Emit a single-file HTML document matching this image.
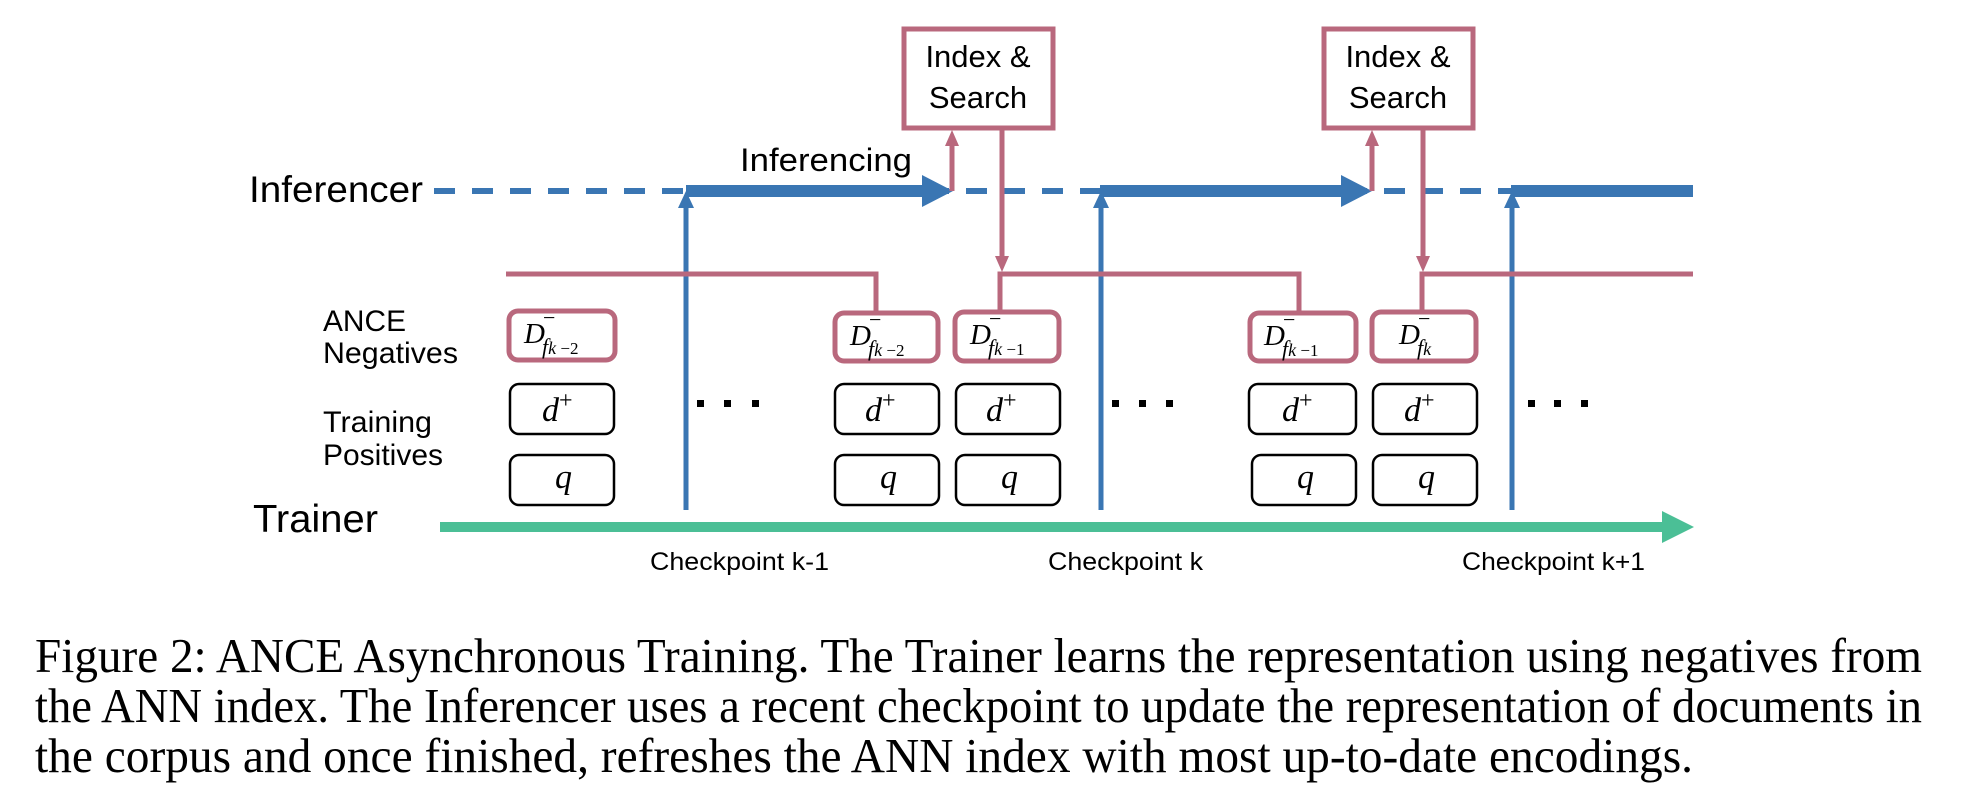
<!DOCTYPE html>
<html><head><meta charset="utf-8"><style>
html,body{margin:0;padding:0;background:#fff;width:1963px;height:802px;overflow:hidden}
svg{display:block}
</style></head><body>
<svg width="1963" height="802" viewBox="0 0 1963 802" xmlns="http://www.w3.org/2000/svg">
<g font-family="Liberation Sans, sans-serif" fill="#000">
<text x="249" y="202" font-size="37" textLength="174" lengthAdjust="spacingAndGlyphs">Inferencer</text>
<text x="740" y="171" font-size="32" textLength="172" lengthAdjust="spacingAndGlyphs">Inferencing</text>
<text x="253" y="532" font-size="39" textLength="125" lengthAdjust="spacingAndGlyphs">Trainer</text>
<text x="323" y="331" font-size="30" textLength="83" lengthAdjust="spacingAndGlyphs">ANCE</text>
<text x="323" y="363" font-size="30" textLength="135" lengthAdjust="spacingAndGlyphs">Negatives</text>
<text x="323" y="432" font-size="30" textLength="109" lengthAdjust="spacingAndGlyphs">Training</text>
<text x="323" y="465" font-size="30" textLength="120" lengthAdjust="spacingAndGlyphs">Positives</text>
<text x="650" y="570" font-size="25" textLength="179" lengthAdjust="spacingAndGlyphs">Checkpoint k-1</text>
<text x="1048" y="570" font-size="25" textLength="155" lengthAdjust="spacingAndGlyphs">Checkpoint k</text>
<text x="1462" y="570" font-size="25" textLength="183" lengthAdjust="spacingAndGlyphs">Checkpoint k+1</text>
</g>
<line x1="434" y1="191" x2="1693" y2="191" stroke="#3a76b3" stroke-width="6" stroke-dasharray="21 17"/>
<g fill="#3a76b3" stroke="none">
<rect x="686" y="185" width="238" height="12"/>
<polygon points="922,175 953,191 922,207"/>
<rect x="1100" y="185" width="242" height="12"/>
<polygon points="1341,175 1372,191 1341,207"/>
<rect x="1511" y="185" width="182" height="12"/>
</g>
<g stroke="#3a76b3" stroke-width="5">
<line x1="686" y1="510" x2="686" y2="205"/>
<line x1="1101" y1="510" x2="1101" y2="205"/>
<line x1="1512" y1="510" x2="1512" y2="205"/>
</g>
<g fill="#3a76b3">
<polygon points="678,208 686,191 694,208"/>
<polygon points="1093,208 1101,191 1109,208"/>
<polygon points="1504,208 1512,191 1520,208"/>
</g>
<rect x="440" y="522" width="1224" height="10" fill="#4bbf96"/>
<polygon points="1662,511 1694,527 1662,543" fill="#4bbf96"/>
<g fill="#fff" stroke="#b9687d" stroke-width="5">
<rect x="904" y="29" width="149" height="99"/>
<rect x="1324" y="29" width="149" height="99"/>
</g>
<g font-family="Liberation Sans, sans-serif" font-size="31" text-anchor="middle">
<text x="978" y="67">Index &amp;</text>
<text x="978" y="108">Search</text>
<text x="1398" y="67">Index &amp;</text>
<text x="1398" y="108">Search</text>
</g>
<g stroke="#b9687d" stroke-width="5" fill="none">
<line x1="952" y1="191" x2="952" y2="145"/>
<line x1="1002" y1="130" x2="1002" y2="258"/>
<line x1="1372" y1="191" x2="1372" y2="145"/>
<line x1="1423" y1="130" x2="1423" y2="258"/>
<polyline points="506,274 876,274 876,312"/>
<polyline points="1000,312 1000,274 1299,274 1299,312"/>
<polyline points="1422,312 1422,274 1693,274"/>
</g>
<g fill="#b9687d">
<polygon points="945,146 952,130 959,146"/>
<polygon points="1365,146 1372,130 1379,146"/>
<polygon points="995,256 1002,272 1009,256"/>
<polygon points="1416,256 1423,272 1430,256"/>
</g>
<g fill="#000">
<rect x="697" y="400" width="7" height="7"/><rect x="724" y="400" width="7" height="7"/><rect x="752" y="400" width="7" height="7"/>
<rect x="1112" y="400" width="7" height="7"/><rect x="1139" y="400" width="7" height="7"/><rect x="1166" y="400" width="7" height="7"/>
<rect x="1528" y="400" width="7" height="7"/><rect x="1554" y="400" width="7" height="7"/><rect x="1581" y="400" width="7" height="7"/>
</g>
<g fill="#fff" stroke="#b9687d" stroke-width="5">
<rect x="509" y="311" width="106" height="49" rx="9"/>
<rect x="835" y="313" width="103" height="48" rx="9"/>
<rect x="955" y="312" width="104" height="49" rx="9"/>
<rect x="1250" y="313" width="106" height="48" rx="9"/>
<rect x="1372" y="312" width="104" height="49" rx="9"/>
</g>
<g fill="#fff" stroke="#000" stroke-width="2.5">
<rect x="510" y="384" width="104" height="50" rx="9"/>
<rect x="835" y="384" width="104" height="50" rx="9"/>
<rect x="956" y="384" width="104" height="50" rx="9"/>
<rect x="1249" y="384" width="107" height="50" rx="9"/>
<rect x="1373" y="384" width="104" height="50" rx="9"/>
<rect x="510" y="455" width="104" height="50" rx="9"/>
<rect x="835" y="455" width="104" height="50" rx="9"/>
<rect x="956" y="455" width="104" height="50" rx="9"/>
<rect x="1252" y="455" width="104" height="50" rx="9"/>
<rect x="1373" y="455" width="104" height="50" rx="9"/>
</g>
<g font-family="Liberation Serif, serif" font-style="italic" fill="#000">
<g font-size="34">
<text x="542" y="421">d<tspan font-style="normal" font-size="24" dy="-13">+</tspan></text>
<text x="865" y="421">d<tspan font-style="normal" font-size="24" dy="-13">+</tspan></text>
<text x="986" y="421">d<tspan font-style="normal" font-size="24" dy="-13">+</tspan></text>
<text x="1282" y="421">d<tspan font-style="normal" font-size="24" dy="-13">+</tspan></text>
<text x="1404" y="421">d<tspan font-style="normal" font-size="24" dy="-13">+</tspan></text>
<text x="555" y="488">q</text>
<text x="880" y="488">q</text>
<text x="1001" y="488">q</text>
<text x="1297" y="488">q</text>
<text x="1418" y="488">q</text>
</g>
<g font-size="29">
<text x="524" y="343">D</text><text x="543" y="325" font-style="normal" font-size="22">−</text><text x="542" y="354" font-size="22">f<tspan font-size="18">k</tspan><tspan font-style="normal" font-size="17"> −2</tspan></text>
<text x="850" y="345">D</text><text x="869" y="327" font-style="normal" font-size="22">−</text><text x="868" y="356" font-size="22">f<tspan font-size="18">k</tspan><tspan font-style="normal" font-size="17"> −2</tspan></text>
<text x="970" y="344">D</text><text x="989" y="326" font-style="normal" font-size="22">−</text><text x="988" y="355" font-size="22">f<tspan font-size="18">k</tspan><tspan font-style="normal" font-size="17"> −1</tspan></text>
<text x="1264" y="345">D</text><text x="1283" y="327" font-style="normal" font-size="22">−</text><text x="1282" y="356" font-size="22">f<tspan font-size="18">k</tspan><tspan font-style="normal" font-size="17"> −1</tspan></text>
<text x="1399" y="344">D</text><text x="1418" y="326" font-style="normal" font-size="22">−</text><text x="1417" y="355" font-size="22">f<tspan font-size="18">k</tspan></text>
</g>
</g>
<g font-family="Liberation Serif, serif" font-size="49" fill="#000">
<text x="35" y="672" textLength="1887" lengthAdjust="spacingAndGlyphs">Figure 2: ANCE Asynchronous Training. The Trainer learns the representation using negatives from</text>
<text x="35" y="722" textLength="1887" lengthAdjust="spacingAndGlyphs">the ANN index. The Inferencer uses a recent checkpoint to update the representation of documents in</text>
<text x="35" y="772" textLength="1658" lengthAdjust="spacingAndGlyphs">the corpus and once finished, refreshes the ANN index with most up-to-date encodings.</text>
</g>
</svg>
</body></html>
